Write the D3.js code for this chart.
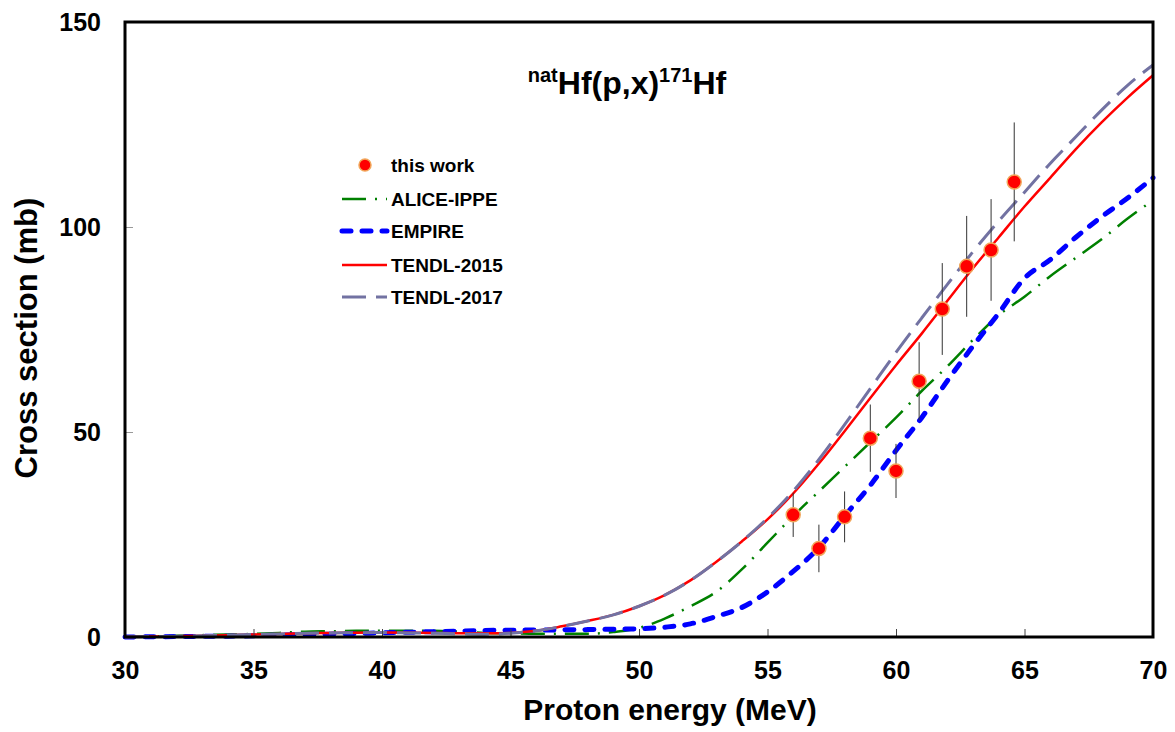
<!DOCTYPE html>
<html>
<head>
<meta charset="utf-8">
<script src="https://cdn.jsdelivr.net/npm/d3@7"></script>
<style>
  body { margin: 0; background: #fff; }
  text { font-family: "Liberation Sans", Arial, sans-serif; font-weight: bold; fill: #000; }
</style>
</head>
<body>
<div id="chart"></div>
<script>
// energy grid (MeV) used by all model curves
const energy = [30,31,32,33,34,35,36,37,38,39,40,41,42,43,44,45,46,47,48,49,50,
                51,52,53,54,55,56,57,58,59,60,61,62,63,64,65,66,67,68,69,70];

const aliceIppe = [0,0.15,0.3,0.45,0.6,0.75,1.0,1.3,1.4,1.5,1.5,1.5,1.5,1.3,1.0,0.9,0.8,0.8,0.8,1.2,2.2,
                   4.5,7.5,11,16.5,23,29.5,35.5,41.5,47.5,53.5,60,66,72.5,78.5,83,88,92.5,97,102,106.5];
const empire    = [0,0.05,0.1,0.15,0.2,0.3,0.45,0.6,0.7,0.85,1.0,1.15,1.3,1.45,1.6,1.65,1.7,1.75,1.8,1.9,2.0,
                   2.4,3.2,5.0,7.2,11,16,21.8,29.5,37,45.5,53.5,62.5,71,79,87.5,92,97.5,102.5,107,112];
const tendl2015 = [0,0.1,0.2,0.3,0.45,0.6,0.75,0.9,1.0,1.05,1.1,1.05,1.0,0.9,0.9,1.0,1.5,2.6,3.9,5.4,7.5,
                   10.2,13.8,18.3,23.3,28.7,35,42.3,50.2,58.3,66.3,74,82,90,97.5,105,112,119,125.5,131.5,137];
const tendl2017 = [0,0.1,0.2,0.3,0.45,0.6,0.75,0.9,1.0,1.05,1.1,1.0,0.9,0.8,0.7,0.9,1.5,2.6,3.9,5.4,7.5,
                   10.2,13.8,18.3,23.3,29,35.6,43.3,51.8,60.6,69.4,77.8,86,94,101.5,108.5,115.5,122,128.5,134.5,139.5];

// measured points (this work)
const expEnergy = [56.0, 57.0, 58.0, 59.0, 60.0, 60.9, 61.8, 62.75, 63.7, 64.6];
const expXs     = [29.8, 21.6, 29.3, 48.5, 40.5, 62.4, 80.0, 90.4, 94.4, 111.0];
const expErr    = [5.4, 5.8, 6.2, 8.2, 6.6, 9.5, 11.2, 12.3, 12.4, 14.5];

const xTicks = [30,35,40,45,50,55,60,65,70];
const yTicks = [0,50,100,150];

const series = [
  { name: "ALICE-IPPE", values: aliceIppe, color: "#008000", width: 2.5, dash: "24,9,2,9", cap: "butt" },
  { name: "EMPIRE",     values: empire,    color: "#0000FF", width: 5,   dash: "9,11",     cap: "round" },
  { name: "TENDL-2015", values: tendl2015, color: "#FF0000", width: 2.5, dash: null,       cap: "butt" },
  { name: "TENDL-2017", values: tendl2017, color: "#7272A2", width: 3,   dash: "24,10",    cap: "butt" }
];

const W = 1175, H = 732;
const margin = { top: 22, right: 22, bottom: 95, left: 125 };
const width = W - margin.left - margin.right;
const height = H - margin.top - margin.bottom;

const svg = d3.select("#chart").append("svg")
    .attr("width", W)
    .attr("height", H);

const g = svg.append("g")
    .attr("transform", "translate(" + margin.left + "," + margin.top + ")");

const x = d3.scaleLinear().domain([30, 70]).range([0, width]);
const y = d3.scaleLinear().domain([0, 150]).range([height, 0]);

// model curves
const line = d3.line()
    .x((d, i) => x(energy[i]))
    .y(d => y(d))
    .curve(d3.curveMonotoneX);

g.selectAll("path.model")
    .data(series)
    .enter()
    .append("path")
    .attr("class", "model")
    .attr("d", d => line(d.values))
    .attr("fill", "none")
    .attr("stroke", d => d.color)
    .attr("stroke-width", d => d.width)
    .attr("stroke-linecap", d => d.cap)
    .attr("stroke-dasharray", d => d.dash);

// error bars
g.selectAll("line.err")
    .data(expEnergy)
    .enter()
    .append("line")
    .attr("class", "err")
    .attr("x1", d => x(d))
    .attr("x2", d => x(d))
    .attr("y1", (d, i) => y(expXs[i] - expErr[i]))
    .attr("y2", (d, i) => y(expXs[i] + expErr[i]))
    .attr("stroke", "#333")
    .attr("stroke-width", 1);

// points
g.selectAll("circle.pt")
    .data(expEnergy)
    .enter()
    .append("circle")
    .attr("class", "pt")
    .attr("cx", d => x(d))
    .attr("cy", (d, i) => y(expXs[i]))
    .attr("r", 7)
    .attr("fill", "#FF0000")
    .attr("stroke", "#F2A65A")
    .attr("stroke-width", 1.5);

// axes: inward ticks, no domain path (box drawn separately)
const xAxis = g.append("g")
    .attr("transform", "translate(0," + height + ")")
    .call(d3.axisBottom(x).tickValues(xTicks).tickSize(-8).tickPadding(24).tickFormat(d3.format("d")));
xAxis.select(".domain").remove();
xAxis.selectAll(".tick line").attr("stroke", "#444").attr("stroke-width", 1)
    .filter(d => d === 30 || d === 70).remove();
xAxis.selectAll(".tick text").attr("font-size", "25px").attr("dy", "0.71em")
    .style("font-family", "'Liberation Sans', Arial, sans-serif").style("font-weight", "bold");

const yAxis = g.append("g")
    .call(d3.axisLeft(y).tickValues(yTicks).tickSize(-8).tickPadding(24).tickFormat(d3.format("d")));
yAxis.select(".domain").remove();
yAxis.selectAll(".tick line").attr("stroke", "#999").attr("stroke-width", 1)
    .filter(d => d === 0 || d === 150).remove();
yAxis.selectAll(".tick text").attr("font-size", "25px")
    .style("font-family", "'Liberation Sans', Arial, sans-serif").style("font-weight", "bold");

// plot frame
g.append("rect")
    .attr("x", 0).attr("y", 0)
    .attr("width", width).attr("height", height)
    .attr("fill", "none")
    .attr("stroke", "#000")
    .attr("stroke-width", 3);

// axis titles
svg.append("text")
    .attr("x", 670)
    .attr("y", 720)
    .attr("text-anchor", "middle")
    .attr("font-size", "30px")
    .text("Proton energy (MeV)");

svg.append("text")
    .attr("transform", "translate(37," + 338 + ") rotate(-90)")
    .attr("text-anchor", "middle")
    .attr("font-size", "31px")
    .text("Cross section (mb)");

// reaction title
const title = svg.append("text")
    .attr("x", 627)
    .attr("y", 94)
    .attr("text-anchor", "middle")
    .attr("font-size", "32px");
title.append("tspan").attr("font-size", "20px").attr("dy", "-12").text("nat");
title.append("tspan").attr("dy", "12").text("Hf(p,x)");
title.append("tspan").attr("font-size", "20px").attr("dy", "-12").text("171");
title.append("tspan").attr("dy", "12").text("Hf");

// legend
const legendX = 342, legendText = 391;
const legendY = [165, 199, 231, 265, 297];

const legend = svg.append("g");
legend.append("circle")
    .attr("cx", 365).attr("cy", legendY[0]).attr("r", 6)
    .attr("fill", "#FF0000").attr("stroke", "#F2A65A").attr("stroke-width", 1.5);
legend.append("text")
    .attr("x", legendText).attr("y", legendY[0]).attr("dy", "0.36em")
    .attr("font-size", "19px").text("this work");

series.forEach((s, i) => {
    const yy = legendY[i + 1];
    legend.append("line")
        .attr("x1", legendX).attr("x2", legendX + 45)
        .attr("y1", yy).attr("y2", yy)
        .attr("stroke", s.color)
        .attr("stroke-width", s.width)
        .attr("stroke-linecap", s.cap)
        .attr("stroke-dasharray", s.dash);
    legend.append("text")
        .attr("x", legendText).attr("y", yy).attr("dy", "0.36em")
        .attr("font-size", "19px").text(s.name);
});
</script>
</body>
</html>
